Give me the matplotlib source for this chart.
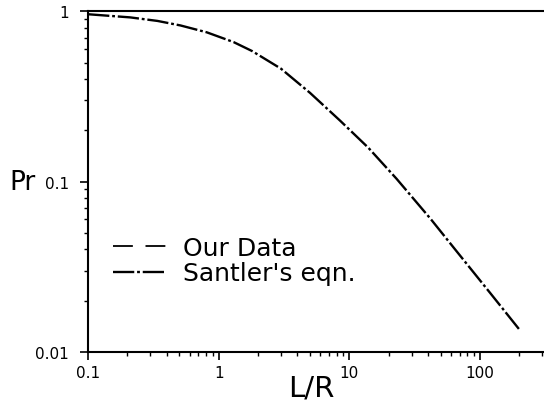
import matplotlib
matplotlib.use("Agg")
import matplotlib.pyplot as plt
from matplotlib.ticker import LogLocator, NullFormatter, FixedLocator, FixedFormatter

# Santler's equation curve
lr = [0.1, 0.21, 0.34, 0.51, 0.81, 1.3, 1.8, 3.0, 5.0, 8.5, 14, 23, 42, 65, 120, 200]
pr = [0.96, 0.92, 0.877, 0.825, 0.752, 0.659, 0.584, 0.46, 0.332, 0.228, 0.158,
      0.104, 0.0604, 0.0398, 0.0222, 0.0136]
# "Our Data" only shows up in the legend
our_lr, our_pr = [], []

xticks = [0.1, 1, 10, 100]
xtick_labels = ["0.1", "1", "10", "100"]
yticks = [0.01, 0.1, 1]
ytick_labels = ["0.01", "0.1", "1"]

fig = plt.figure(figsize=(5.44, 4.06), dpi=100)
ax = fig.add_axes([0.162, 0.1305, 0.838, 0.8394])
ax.set_xscale("log"); ax.set_yscale("log")
ax.set_xlim(0.1, 310); ax.set_ylim(0.01, 1)

ax.plot(our_lr, our_pr, color="black", lw=1.3, ls=(0, (11, 7)), label="Our Data")
ax.plot(lr, pr, color="black", lw=1.7, ls=(0, (9, 1.2, 1.2, 1.2)), label="Santler's eqn.")

ax.xaxis.set_major_locator(FixedLocator(xticks))
ax.xaxis.set_major_formatter(FixedFormatter(xtick_labels))
ax.yaxis.set_major_locator(FixedLocator(yticks))
ax.yaxis.set_major_formatter(FixedFormatter(ytick_labels))
for a in (ax.xaxis, ax.yaxis):
    a.set_minor_locator(LogLocator(base=10, subs=range(2, 10)))
    a.set_minor_formatter(NullFormatter())
ax.tick_params(which="major", direction="out", length=6, width=1.2, labelsize=11)
ax.tick_params(axis="y", which="major", pad=8)
ax.tick_params(axis="x", which="major", pad=3)
ax.tick_params(which="minor", direction="out", length=3, width=1)
ax.spines["right"].set_visible(False)
for s in ("left", "bottom", "top"):
    ax.spines[s].set_linewidth(1.5)

ax.set_ylabel("Pr", rotation=0, fontsize=19, va="center", ha="center")
ax.yaxis.set_label_coords(-0.145, 0.5)
ax.set_xlabel("L/R", fontsize=21, labelpad=0, va="center")
ax.xaxis.set_label_coords(0.49, -0.105)

ax.legend(loc="upper left", bbox_to_anchor=(0.055, 0.34), frameon=False, fontsize=18,
          handlelength=2.1, handletextpad=0.7, labelspacing=0.05,
          borderpad=0, borderaxespad=0)

fig.savefig("out.png", dpi=100)
